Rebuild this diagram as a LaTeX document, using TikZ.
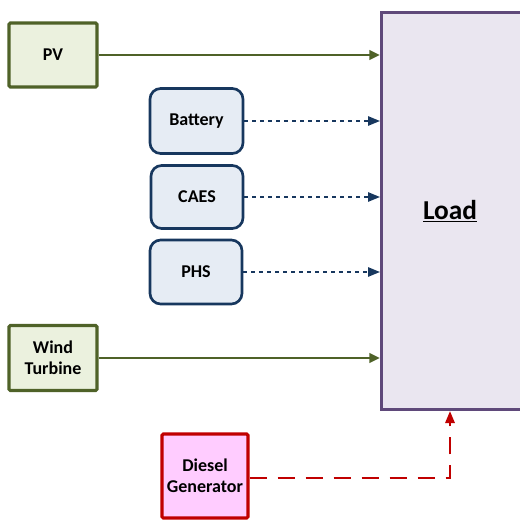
\documentclass[tikz,border=0pt]{standalone}
\usepackage{fontspec}
\setmainfont{Carlito}
\usetikzlibrary{arrows.meta}
\definecolor{grnB}{HTML}{4F6228}
\definecolor{grnF}{HTML}{EBF1DE}
\definecolor{navB}{HTML}{17375E}
\definecolor{navF}{HTML}{E6ECF4}
\definecolor{purB}{HTML}{5F497A}
\definecolor{purF}{HTML}{EAE6F0}
\definecolor{redB}{HTML}{C00000}
\definecolor{redF}{HTML}{FFCCFF}
\tikzset{
  boxfont/.style={font=\bfseries\fontsize{13.5}{15.5}\selectfont},
  srcbox/.style={draw=grnB, fill=grnF, line width=2.3pt, rounded corners=1pt, boxfont, align=center, inner sep=0pt},
  storebox/.style={draw=navB, fill=navF, line width=2pt, rounded corners=8pt, boxfont, align=center, inner sep=0pt},
  loadbox/.style={draw=purB, fill=purF, line width=2.3pt, inner sep=0pt},
  dgbox/.style={draw=redB, fill=redF, line width=2.3pt, rounded corners=1pt, boxfont, align=center, inner sep=0pt},
  grnarrow/.style={draw=grnB, line width=2.2pt, -{Triangle[length=8pt,width=7pt]}},
  navarrow/.style={draw=navB, line width=1.3pt, dash pattern=on 3pt off 3pt, -{Triangle[length=9pt,width=7pt]}},
  redarrow/.style={draw=redB, line width=1.6pt, dash pattern=on 13pt off 8pt, -{Triangle[length=9pt,width=7pt]}},
}
\begin{document}
\begin{tikzpicture}[x=0.75pt,y=-0.75pt]
\useasboundingbox (0,0) rectangle (519,521);
\node[loadbox, minimum width=141*0.75pt, minimum height=397*0.75pt, anchor=north west] (load) at (380,11) {};
\node[font=\bfseries\fontsize{20.5}{24}\selectfont] (loadtxt) at (450,211) {\underline{Load}};
\node[srcbox, minimum width=88*0.75pt, minimum height=64*0.75pt] (pv) at (53,55) {PV};
\node[srcbox, minimum width=88*0.75pt, minimum height=65*0.75pt] (wt) at (53,358) {Wind\\Turbine};
\node[storebox, minimum width=93*0.75pt, minimum height=65*0.75pt] (bat) at (196.5,121) {Battery};
\node[storebox, minimum width=92*0.75pt, minimum height=63*0.75pt] (caes) at (197,197) {CAES};
\node[storebox, minimum width=92*0.75pt, minimum height=64*0.75pt] (phs) at (196,272) {PHS};
\node[dgbox, minimum width=86*0.75pt, minimum height=84*0.75pt] (dg) at (205,476) {Diesel\\Generator};
\draw[grnarrow] (pv.east) -- (pv.east -| load.west);
\draw[grnarrow] (wt.east) -- (wt.east -| load.west);
\draw[navarrow] (bat.east) -- (bat.east -| load.west);
\draw[navarrow] (caes.east) -- (caes.east -| load.west);
\draw[navarrow] (phs.east) -- (phs.east -| load.west);
\coordinate (dgturn) at (450,478);
\draw[redarrow] (dg.east |- dgturn) -- (dgturn) -- (dgturn |- load.south);
\end{tikzpicture}
\end{document}
